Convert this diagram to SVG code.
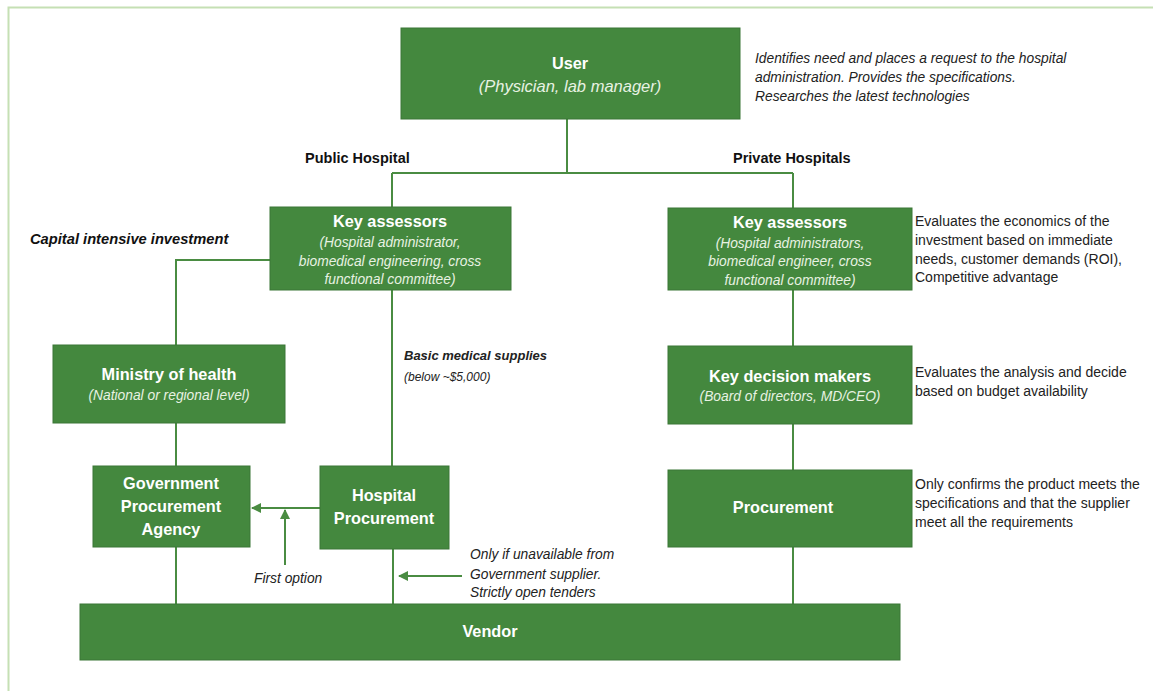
<svg xmlns="http://www.w3.org/2000/svg" width="1153" height="691" viewBox="0 0 1153 691">
<style>
.box{fill:#44883e;stroke:#3b7636;stroke-width:1}
.t{font-family:"Liberation Sans",Arial,sans-serif;fill:#fff;text-anchor:middle}
.b{font-weight:bold;font-size:16.3px}
.s{font-style:italic;font-size:13.8px;fill:#e8f2e2}
.ln{stroke:#4a8c42;stroke-width:2;fill:none}
.d{font-family:"Liberation Sans",Arial,sans-serif;font-size:14px;fill:#222}
.i{font-style:italic;font-size:13.8px}
.bi{font-style:italic;font-weight:bold;font-size:13px}
.lbl{font-family:"Liberation Sans",Arial,sans-serif;font-size:14.5px;font-weight:bold;fill:#111}
</style>
<defs>
<marker id="ah" viewBox="0 0 10 10" refX="9" refY="5" markerWidth="10" markerHeight="10" markerUnits="userSpaceOnUse" orient="auto"><path d="M0,0 L10,5 L0,10 z" fill="#4a8c42"/></marker>
</defs>
<rect width="1153" height="691" fill="#fff"/>
<path d="M8.5,691 V7.5 H1153" stroke="#c5e0b4" stroke-width="2" fill="none"/>

<g id="connectors">
<path class="ln" d="M567,119 V173 M392,173 H793 M392,173 V207 M793,173 V208"/>
<path class="ln" d="M270,260 H176 V345 M176,423 V466 M176,547 V604"/>
<path class="ln" d="M392,290 V466 M393,549 V604"/>
<path class="ln" d="M793,290 V346 M793,424 V470 M793,547 V604"/>
<line class="ln" x1="320" y1="508" x2="252" y2="508" marker-end="url(#ah)"/>
<line class="ln" x1="285" y1="565" x2="285" y2="510" marker-end="url(#ah)"/>
<line class="ln" x1="462" y1="576" x2="399" y2="576" marker-end="url(#ah)"/>
</g>

<g id="user">
<rect class="box" x="401" y="28" width="339" height="91"/>
<text class="t b" x="570" y="69">User</text>
<text class="t s" x="570" y="92" style="font-size:16.5px">(Physician, lab manager)</text>
</g>
<text class="d i" x="755" y="63">Identifies need and places a request to the hospital</text>
<text class="d i" x="755" y="82">administration. Provides the specifications.</text>
<text class="d i" x="755" y="101">Researches the latest technologies</text>

<text class="lbl" x="305" y="163">Public Hospital</text>
<text class="lbl" x="733" y="163">Private Hospitals</text>

<g id="public-key-assessors">
<rect class="box" x="270" y="207" width="241" height="83"/>
<text class="t b" x="390" y="227">Key assessors</text>
<text class="t s" x="390" y="247">(Hospital administrator,</text>
<text class="t s" x="390" y="266">biomedical engineering, cross</text>
<text class="t s" x="390" y="284">functional committee)</text>
</g>
<text class="lbl i" x="30" y="244" style="font-size:14.7px">Capital intensive investment</text>

<g id="private-key-assessors">
<rect class="box" x="668" y="208" width="244" height="82"/>
<text class="t b" x="790" y="228">Key assessors</text>
<text class="t s" x="790" y="248">(Hospital administrators,</text>
<text class="t s" x="790" y="266">biomedical engineer, cross</text>
<text class="t s" x="790" y="285">functional committee)</text>
</g>
<text class="d" x="915" y="226">Evaluates the economics of the</text>
<text class="d" x="915" y="245">investment based on immediate</text>
<text class="d" x="915" y="264">needs, customer demands (ROI),</text>
<text class="d" x="915" y="282">Competitive advantage</text>

<g id="ministry">
<rect class="box" x="53" y="345" width="232" height="78"/>
<text class="t b" x="169" y="380">Ministry of health</text>
<text class="t s" x="169" y="400">(National or regional level)</text>
</g>
<text class="d bi" x="404" y="360">Basic medical supplies</text>
<text class="d i" x="404" y="381" style="font-size:12px">(below ~$5,000)</text>

<g id="key-decision-makers">
<rect class="box" x="668" y="346" width="244" height="78"/>
<text class="t b" x="790" y="382">Key decision makers</text>
<text class="t s" x="790" y="401">(Board of directors, MD/CEO)</text>
</g>
<text class="d" x="915" y="377">Evaluates the analysis and decide</text>
<text class="d" x="915" y="396">based on budget availability</text>

<g id="gov-procurement">
<rect class="box" x="93" y="466" width="157" height="81"/>
<text class="t b" x="171" y="489">Government</text>
<text class="t b" x="171" y="512">Procurement</text>
<text class="t b" x="171" y="535">Agency</text>
</g>

<g id="hospital-procurement">
<rect class="box" x="320" y="466" width="129" height="83"/>
<text class="t b" x="384" y="501">Hospital</text>
<text class="t b" x="384" y="524">Procurement</text>
</g>

<g id="procurement">
<rect class="box" x="668" y="470" width="244" height="77"/>
<text class="t b" x="783" y="513">Procurement</text>
</g>
<text class="d" x="915" y="489">Only confirms the product meets the</text>
<text class="d" x="915" y="508">specifications and that the supplier</text>
<text class="d" x="915" y="527">meet all the requirements</text>

<text class="d i" x="254" y="583">First option</text>
<text class="d i" x="470" y="559">Only if unavailable from</text>
<text class="d i" x="470" y="579">Government supplier.</text>
<text class="d i" x="470" y="597">Strictly open tenders</text>

<g id="vendor">
<rect class="box" x="80" y="604" width="820" height="56"/>
<text class="t b" x="490" y="637">Vendor</text>
</g>
</svg>
